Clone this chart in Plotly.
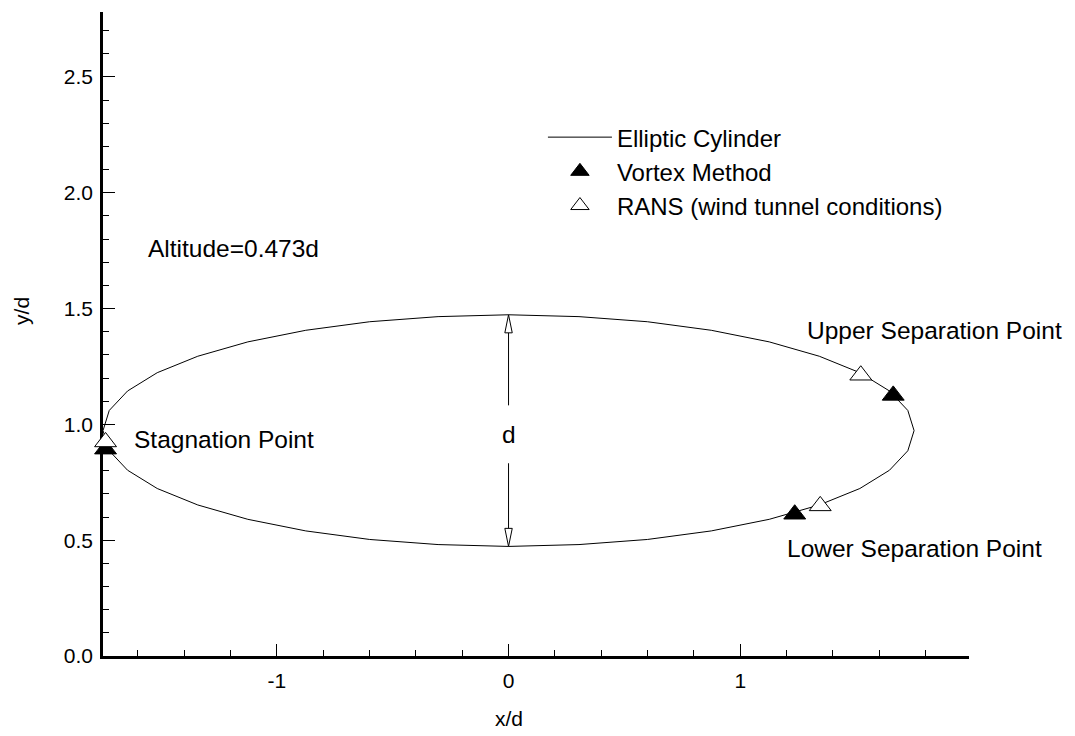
import plotly.graph_objects as go

# Ellipse outline (x/d, y/d)
ell_x = [1.75, 1.723, 1.644, 1.516, 1.341, 1.125, 0.875, 0.599, 0.304, 0.0,
         -0.304, -0.599, -0.875, -1.125, -1.341, -1.516, -1.644, -1.723, -1.75,
         -1.723, -1.644, -1.516, -1.341, -1.125, -0.875, -0.599, -0.304, 0.0,
         0.304, 0.599, 0.875, 1.125, 1.341, 1.516, 1.644, 1.723, 1.75]
ell_y = [0.973, 1.060, 1.144, 1.223, 1.294, 1.356, 1.406, 1.443, 1.465, 1.473,
         1.465, 1.443, 1.406, 1.356, 1.294, 1.223, 1.144, 1.060, 0.973,
         0.886, 0.802, 0.723, 0.652, 0.590, 0.540, 0.503, 0.481, 0.473,
         0.481, 0.503, 0.540, 0.590, 0.652, 0.723, 0.802, 0.886, 0.973]

vortex_x = [-1.739, 1.66, 1.235]
vortex_y = [0.893, 1.125, 0.612]
rans_x = [-1.739, 1.52, 1.345]
rans_y = [0.924, 1.212, 0.648]

x_ticks = [-1, 0, 1]
y_ticks = [0.0, 0.5, 1.0, 1.5, 2.0, 2.5]

FONT = "Arial, Liberation Sans, sans-serif"

fig = go.Figure()
fig.add_trace(go.Scatter(x=ell_x, y=ell_y, mode="lines", name="Elliptic Cylinder",
                         line=dict(color="black", width=1)))
fig.add_trace(go.Scatter(x=vortex_x, y=vortex_y, mode="markers", name="Vortex Method",
                         cliponaxis=False,
                         marker=dict(symbol="triangle-up", size=19, color="black",
                                     line=dict(color="black", width=1))))
fig.add_trace(go.Scatter(x=rans_x, y=rans_y, mode="markers",
                         name="RANS (wind tunnel conditions)", cliponaxis=False,
                         marker=dict(symbol="triangle-up", size=19, color="white",
                                     line=dict(color="black", width=1))))

# dimension arrow "d"
top_y, bot_y = 1.473, 0.473
head_len, head_hw = 0.078, 0.016
shapes = [
    dict(type="line", x0=0, x1=0, y0=1.082, y1=top_y - head_len,
         line=dict(color="black", width=1)),
    dict(type="path",
         path=f"M 0,{top_y} L {-head_hw},{top_y - head_len} L {head_hw},{top_y - head_len} Z",
         line=dict(color="black", width=1), fillcolor="white"),
    dict(type="line", x0=0, x1=0, y0=0.832, y1=bot_y + head_len,
         line=dict(color="black", width=1)),
    dict(type="path",
         path=f"M 0,{bot_y} L {-head_hw},{bot_y + head_len} L {head_hw},{bot_y + head_len} Z",
         line=dict(color="black", width=1), fillcolor="white"),
]

ann_font = dict(family=FONT, size=24.5, color="black")
annotations = [
    dict(x=-1.565, y=1.76, text="Altitude=0.473d", xanchor="left"),
    dict(x=-1.625, y=0.935, text="Stagnation Point", xanchor="left"),
    dict(x=1.28, y=1.405, text="Upper Separation Point", xanchor="left"),
    dict(x=1.195, y=0.465, text="Lower Separation Point", xanchor="left"),
    dict(x=0, y=0.955, text="d", xanchor="center"),
]
for a in annotations:
    a.update(xref="x", yref="y", showarrow=False, yanchor="middle", font=ann_font)

title_font = dict(family=FONT, size=21, color="black")
annotations += [
    dict(x=0, xref="x", y=-0.097, yref="paper", text="x/d", showarrow=False,
         xanchor="center", yanchor="middle", font=title_font),
    dict(x=-0.094, xref="paper", y=1.488, yref="y", text="y/d", showarrow=False,
         textangle=-90, xanchor="center", yanchor="middle", font=title_font),
]

fig.update_layout(
    width=1075, height=736,
    margin=dict(l=103, r=106, t=12, b=80),
    paper_bgcolor="white", plot_bgcolor="white",
    font=dict(family=FONT, color="black"),
    shapes=shapes, annotations=annotations,
    showlegend=True,
    legend=dict(x=0.508, y=0.84, xanchor="left", yanchor="top",
                bgcolor="rgba(0,0,0,0)", font=dict(family=FONT, size=24),
                itemwidth=64, tracegroupgap=0),
    xaxis=dict(range=[-1.75, 1.987], showgrid=False, zeroline=False, automargin=False,
               showline=True, linecolor="black", linewidth=2.5, layer="below traces",
               tickmode="array", tickvals=x_ticks, ticktext=[str(v) for v in x_ticks],
               ticks="inside", ticklen=12, tickwidth=1, tickcolor="black",
               ticklabelstandoff=4,
               tickfont=dict(family=FONT, size=21),
               minor=dict(dtick=0.2, tick0=0, ticks="inside", ticklen=6,
                          tickwidth=1, tickcolor="black")),
    yaxis=dict(range=[0, 2.78], showgrid=False, zeroline=False, automargin=False,
               showline=True, linecolor="black", linewidth=2.5, layer="below traces",
               tickmode="array", tickvals=y_ticks,
               ticktext=[f"{v:.1f}" for v in y_ticks],
               ticks="inside", ticklen=12, tickwidth=1, tickcolor="black",
               ticklabelstandoff=3,
               tickfont=dict(family=FONT, size=21),
               minor=dict(dtick=0.1, tick0=0, ticks="inside", ticklen=6,
                          tickwidth=1, tickcolor="black")),
)

fig.write_html("out.html")
